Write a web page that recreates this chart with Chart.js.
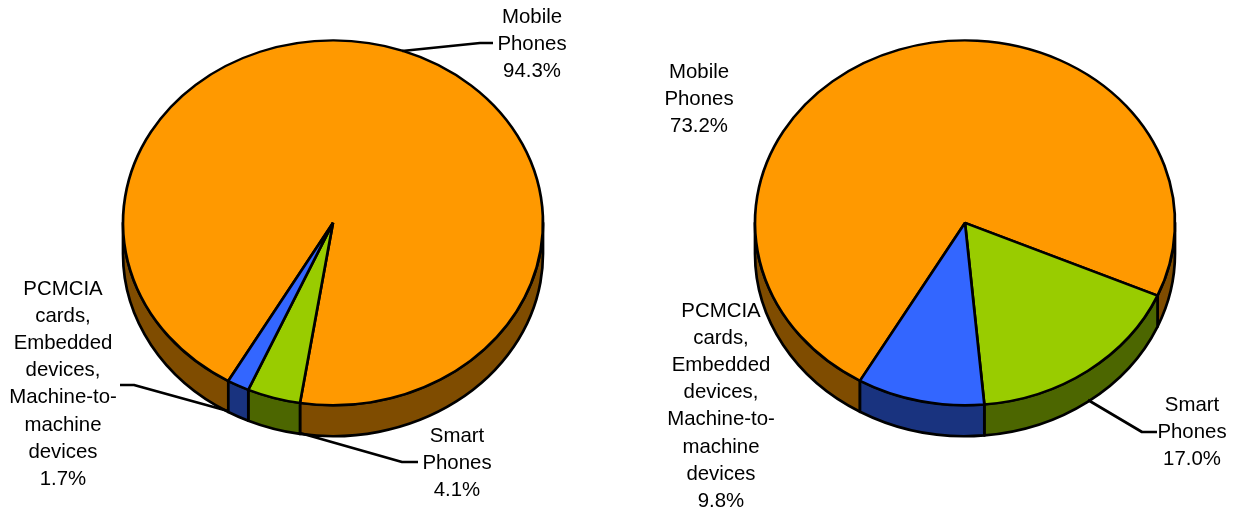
<!DOCTYPE html>
<html><head><meta charset="utf-8">
<script src="https://cdn.jsdelivr.net/npm/chart.js@4/dist/chart.umd.min.js"></script>
<style>
html,body{margin:0;padding:0;background:#fff;overflow:hidden;width:1234px;height:512px}
canvas{position:absolute;top:0}
#a{left:0}#b{left:617px}
</style></head><body>
<canvas id="a" width="617" height="512"></canvas>
<canvas id="b" width="617" height="512"></canvas>
<script>
const categories = ['Mobile Phones','Smart Phones','PCMCIA cards, Embedded devices, Machine-to-machine devices'];
const valuesLeft = [94.3, 4.1, 1.7];
const valuesRight = [73.2, 17.0, 9.8];
const labelLines = [['Mobile','Phones'],['Smart','Phones'],['PCMCIA','cards,','Embedded','devices,','Machine-to-','machine','devices']];
const topColors = ['#FF9900','#99CC00','#3366FF'];
const wallColors = ['#7F4C00','#4C6600','#19337F'];

const SQUASH = 182.4/210, DEPTH = 31, LINE_H = 27.2, STROKE = 2.7;
const FONT = '20.4px "Liberation Sans", Arial, sans-serif';

function visibleRanges(s, e){
  const out=[], T=Math.PI*2;
  for(let k=-2;k<=2;k++){
    const a=Math.max(s,k*T), b=Math.min(e,k*T+Math.PI);
    if(b>a) out.push([a,b]);
  }
  return out;
}
const pie3d = {
  id:'pie3d',
  beforeDatasetsDraw(chart){
    const ctx=chart.ctx, arcs=chart.getDatasetMeta(0).data;
    const cx=arcs[0].x, cy=arcs[0].y, r=arcs[0].outerRadius, ry=r*SQUASH;
    ctx.save();
    ctx.lineWidth=STROKE; ctx.strokeStyle='#000'; ctx.lineJoin='round';
    arcs.forEach((arc,i)=>{
      visibleRanges(arc.startAngle,arc.endAngle).forEach(([a,b])=>{
        ctx.beginPath();
        ctx.ellipse(cx,cy,r,ry,0,a,b);
        ctx.ellipse(cx,cy+DEPTH,r,ry,0,b,a,true);
        ctx.closePath();
        ctx.fillStyle=wallColors[i];
        ctx.fill(); ctx.stroke();
      });
    });
    ctx.restore();
    ctx.save();
    ctx.translate(0,cy); ctx.scale(1,SQUASH); ctx.translate(0,-cy);
  },
  afterDatasetsDraw(chart,args,opts){
    const ctx=chart.ctx;
    ctx.restore();
    ctx.save();
    ctx.strokeStyle='#000'; ctx.lineWidth=STROKE; ctx.lineJoin='round';
    opts.leaders.forEach(pts=>{
      ctx.beginPath();
      pts.forEach((p,i)=> i?ctx.lineTo(p[0],p[1]):ctx.moveTo(p[0],p[1]));
      ctx.stroke();
    });
    ctx.fillStyle='#000'; ctx.font=FONT; ctx.textAlign='center'; ctx.textBaseline='middle';
    const vals=chart.data.datasets[0].data;
    opts.labels.forEach(([x,y],i)=>{
      const lines=[...labelLines[i], vals[i].toFixed(1)+'%'];
      lines.forEach((t,j)=>ctx.fillText(t,x,y+j*LINE_H));
    });
    ctx.restore();
  }
};
function make(id,values,rotation,paddingLeft,labels,leaders){
  return new Chart(document.getElementById(id),{
    type:'pie',
    data:{labels:categories,datasets:[{data:values,backgroundColor:topColors,borderColor:'#000',borderWidth:STROKE,radius:210,hoverOffset:0}]},
    options:{
      responsive:false,animation:false,rotation,
      layout:{padding:{left:paddingLeft,bottom:66.4,top:0,right:0}},
      plugins:{legend:{display:false},tooltip:{enabled:false},pie3d:{labels,leaders}}
    },
    plugins:[pie3d]
  });
}
make('a',valuesLeft,209.9,49,
  [[532,17],[457,436],[63,289]],
  [[[402,51],[480,43],[493,43]],[[300,433],[402,462],[418,462]],[[120,385],[134,385],[228,411]]]);
make('b',valuesRight,210,79,
  [[82,72],[575,405],[104,311]],
  [[[471,400],[525,432],[540,432]]]);
</script>
</body></html>
